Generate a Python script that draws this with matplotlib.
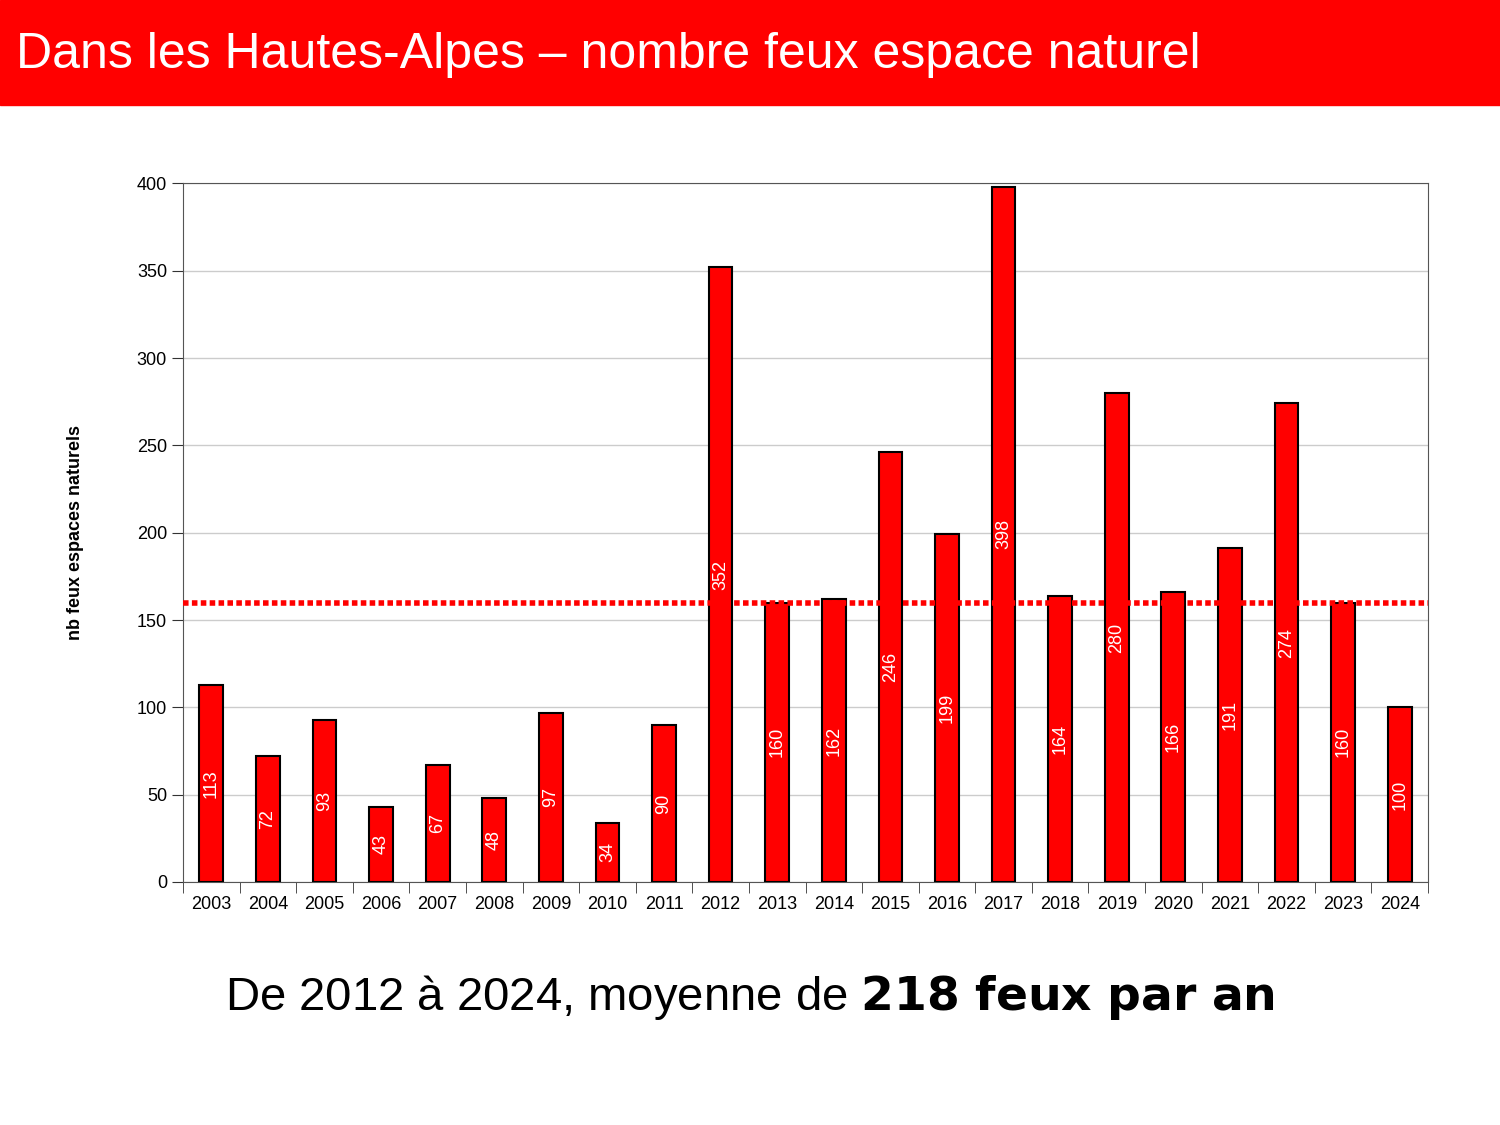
import matplotlib.pyplot as plt
import numpy as np

years = [str(y) for y in range(2003, 2025)]
fires = [113, 72, 93, 43, 67, 48, 97, 34, 90, 352, 160, 162, 246, 199, 398,
         164, 280, 166, 191, 274, 160, 100]
reference_line = 160

plt.rcParams['font.family'] = ['Liberation Sans', 'DejaVu Sans']
fig = plt.figure(figsize=(15, 11.25), dpi=100)

# red title banner
fig.patches.append(plt.Rectangle((0, 1 - 105 / 1125), 1, 105 / 1125,
                                 transform=fig.transFigure, color='#ff0000', zorder=0))
fig.text(0.011, 1 - 55 / 1125, "Dans les Hautes-Alpes \u2013 nombre feux espace naturel",
         color='white', fontsize=36, va='center', ha='left')

ax = fig.add_axes([0.122, 0.216, 0.830, 0.621])
x = np.arange(len(years))
ax.bar(x, fires, width=0.42, color='#ff0000', edgecolor='black', linewidth=1.5, zorder=3)
for xi, v in zip(x, fires):
    ax.text(xi, v / 2, str(v), rotation=90, ha='center', va='center',
            color='white', fontsize=13, zorder=4)
ax.axhline(reference_line, color='#ff0000', linestyle=(0, (1, 0.6)), linewidth=4, zorder=5)

ax.set_xlim(-0.5, len(years) - 0.5)
ax.set_ylim(0, 400)
ax.set_yticks(range(0, 401, 50))
ax.set_xticks(x)
ax.set_xticklabels(years, fontsize=13)
ax.set_xticks(np.arange(-0.5, len(years), 1), minor=True)
ax.tick_params(axis='x', which='major', length=0, pad=10)
ax.tick_params(axis='x', which='minor', length=8, direction='out', color='#333333')
ax.tick_params(axis='y', labelsize=13, length=8, color='#333333')
ax.grid(axis='y', color='#cccccc', linewidth=1, zorder=0)
for s in ax.spines.values():
    s.set_color('#555555')
ax.set_ylabel("nb feux espaces naturels", fontsize=13, fontweight='bold', labelpad=38)

fig.text(0.5, 1 - 998 / 1125, "De 2012 \u00e0 2024, moyenne de $\\bf{218\\ feux\\ par\\ an}$",
         fontsize=34, ha='center', va='center')

fig.savefig("out.png", dpi=100)
